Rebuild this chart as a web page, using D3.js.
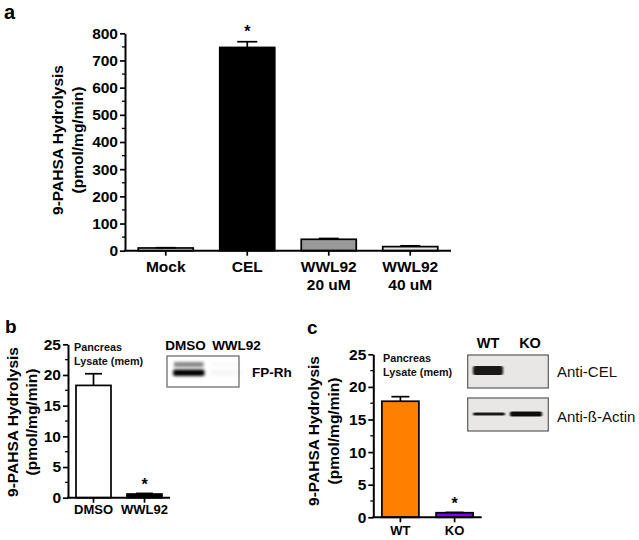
<!DOCTYPE html>
<html>
<head>
<meta charset="utf-8">
<script src="https://cdn.jsdelivr.net/npm/d3@7"></script>
<style>
  html, body { margin: 0; padding: 0; background: #fff; }
  svg { display: block; font-family: "Liberation Sans", Arial, sans-serif; }
</style>
</head>
<body>
<svg id="chart" width="639" height="540"></svg>
<script>
// ---------------- DATA ----------------
const aCategories = ["Mock", "CEL", "WWL92 20 uM", "WWL92 40 uM"];
const aLabels = [["Mock"], ["CEL"], ["WWL92", "20 uM"], ["WWL92", "40 uM"]];
const aValues = [10, 748, 42, 15];
const aErrors = [1, 21, 3, 3];
const aTicks = [0, 100, 200, 300, 400, 500, 600, 700, 800];
const aColors = ["#e6e6e6", "#000000", "#999999", "#e6e6e6"];
const aStars = [false, true, false, false];

const bCategories = ["DMSO", "WWL92"];
const bValues = [18.3, 0.6];
const bErrors = [1.9, 0.1];
const bTicks = [0, 5, 10, 15, 20, 25];
const bColors = ["#ffffff", "#000000"];
const bStars = [false, true];

const cCategories = ["WT", "KO"];
const cValues = [17.8, 0.7];
const cErrors = [0.7, 0.05];
const cTicks = [0, 5, 10, 15, 20, 25];
const cColors = ["#ff8000", "#8000ff"];
const cStars = [false, true];

const yTitle = ["9-PAHSA Hydrolysis", "(pmol/mg/min)"];
const insetText = ["Pancreas", "Lysate (mem)"];

// Blots
const bBlotLanes = ["DMSO", "WWL92"];
const bBlotUpper = [0.55, 0.02];
const bBlotLower = [1.0, 0.03];
const bBlotLabel = "FP-Rh";

const cBlotLanes = ["WT", "KO"];
const cBlotCEL = [0.95, 0.0];
const cBlotActin = [0.95, 1.0];
const cBlotLabels = ["Anti-CEL", "Anti-ß-Actin"];

// ---------------- DRAW ----------------
const svg = d3.select("#chart");
const defs = svg.append("defs");
defs.append("filter").attr("id", "blur").attr("x", "-30%").attr("y", "-150%").attr("width", "160%").attr("height", "400%")
  .append("feGaussianBlur").attr("stdDeviation", "1.8 1.4");
defs.append("filter").attr("id", "blur2").attr("x", "-30%").attr("y", "-150%").attr("width", "160%").attr("height", "400%")
  .append("feGaussianBlur").attr("stdDeviation", "1.0 0.7");

function barPanel(o) {
  const g = svg.append("g");
  const y = d3.scaleLinear().domain([0, o.max]).range([o.y0, o.y1]);
  const x = d3.scaleBand().domain(o.cats).range([o.x0, o.x1])
    .paddingInner(o.pad).paddingOuter(o.pad / 2);

  g.selectAll("rect.bar").data(o.cats).join("rect")
    .attr("x", d => x(d))
    .attr("width", x.bandwidth())
    .attr("y", (d, i) => y(o.values[i]))
    .attr("height", (d, i) => y(0) - y(o.values[i]))
    .attr("fill", (d, i) => o.colors[i])
    .attr("stroke", "#000").attr("stroke-width", 1.7);

  o.cats.forEach((d, i) => {
    const cx = x(d) + x.bandwidth() / 2;
    const top = y(o.values[i] + o.errors[i]);
    g.append("line").attr("x1", cx).attr("x2", cx)
      .attr("y1", y(o.values[i])).attr("y2", top)
      .attr("stroke", "#000").attr("stroke-width", 1.7);
    g.append("line").attr("x1", cx - o.cap / 2).attr("x2", cx + o.cap / 2)
      .attr("y1", top).attr("y2", top)
      .attr("stroke", "#000").attr("stroke-width", 1.7);
    if (o.stars[i]) {
      g.append("text").attr("x", cx).attr("y", top - o.starGap)
        .attr("text-anchor", "middle").attr("font-weight", "bold")
        .attr("font-size", 16).text("*");
    }
  });

  const step = o.ticks[1] - o.ticks[0];
  const minor = o.ticks.slice(0, -1).map(t => t + step / 2);
  g.selectAll("line.minor").data(minor).join("line")
    .attr("x1", o.x0 - 3).attr("x2", o.x0)
    .attr("y1", d => y(d)).attr("y2", d => y(d))
    .attr("stroke", "#000").attr("stroke-width", 1.3);

  const ya = g.append("g").attr("transform", `translate(${o.x0},0)`)
    .call(d3.axisLeft(y).tickValues(o.ticks).tickSize(5).tickSizeOuter(0).tickPadding(2));
  ya.select(".domain").attr("stroke", "#000").attr("stroke-width", 2);
  ya.selectAll(".tick line").attr("stroke", "#000").attr("stroke-width", 1.7);
  ya.selectAll(".tick text").attr("font-size", o.tickFont).attr("font-weight", "bold")
    .attr("fill", "#000").attr("font-family", "Liberation Sans, Arial, sans-serif");

  g.append("line").attr("x1", o.x0 - 1).attr("x2", o.x1)
    .attr("y1", y(0)).attr("y2", y(0))
    .attr("stroke", "#000").attr("stroke-width", 2);
  g.selectAll("line.xt").data(o.cats).join("line")
    .attr("x1", d => x(d) + x.bandwidth() / 2).attr("x2", d => x(d) + x.bandwidth() / 2)
    .attr("y1", y(0)).attr("y2", y(0) + 5)
    .attr("stroke", "#000").attr("stroke-width", 1.7);
  o.cats.forEach((d, i) => {
    const t = g.append("text").attr("x", x(d) + x.bandwidth() / 2)
      .attr("y", o.labelY).attr("text-anchor", "middle")
      .attr("font-weight", "bold").attr("font-size", o.labelFont);
    o.labels[i].forEach((s, j) => {
      t.append("tspan").attr("x", x(d) + x.bandwidth() / 2)
        .attr("dy", j === 0 ? 0 : o.labelLH).text(s);
    });
  });

  yTitle.forEach((s, j) => {
    g.append("text")
      .attr("transform", `translate(${o.titleX[j]},${o.titleY}) rotate(-90)`)
      .attr("text-anchor", "middle").attr("dominant-baseline", "central")
      .attr("font-weight", "bold").attr("font-size", o.titleFont).text(s);
  });

  g.append("text").attr("x", o.letter[1]).attr("y", o.letter[2])
    .attr("font-weight", "bold").attr("font-size", o.letter[3]).text(o.letter[0]);

  if (o.inset) {
    insetText.forEach((s, j) => {
      g.append("text").attr("x", o.inset[0]).attr("y", o.inset[1] + j * 13.5)
        .attr("font-weight", "bold").attr("font-size", 10.8).attr("fill", "#111").text(s);
    });
  }
}

barPanel({
  cats: aCategories, labels: aLabels, values: aValues, errors: aErrors, colors: aColors,
  stars: aStars, ticks: aTicks, max: 800,
  x0: 125, x1: 451, y0: 250.7, y1: 33.3, pad: 0.325, cap: 20, starGap: 5,
  tickFont: 15.5, labelFont: 15.5, labelY: 272, labelLH: 18,
  titleX: [57, 77], titleY: 140, titleFont: 15.5,
  letter: ["a", 4, 19, 20]
});

barPanel({
  cats: bCategories, labels: bCategories.map(d => [d]), values: bValues, errors: bErrors, colors: bColors,
  stars: bStars, ticks: bTicks, max: 25,
  x0: 68, x1: 170, y0: 497.7, y1: 344.3, pad: 0.314, cap: 17, starGap: 3,
  tickFont: 15.5, labelFont: 13, labelY: 514, labelLH: 16,
  titleX: [12, 31], titleY: 422, titleFont: 15.5,
  letter: ["b", 5, 333, 19],
  inset: [74, 351]
});

barPanel({
  cats: cCategories, labels: cCategories.map(d => [d]), values: cValues, errors: cErrors, colors: cColors,
  stars: cStars, ticks: cTicks, max: 25,
  x0: 373.3, x1: 481.7, y0: 517.3, y1: 354.3, pad: 0.317, cap: 18, starGap: 3,
  tickFont: 15.5, labelFont: 13, labelY: 535, labelLH: 16,
  titleX: [313, 333], titleY: 431, titleFont: 15.5,
  letter: ["c", 307, 334, 19],
  inset: [383, 362]
});

// ---------------- BLOT b ----------------
(function () {
  const g = svg.append("g");
  const lab = d3.scaleBand().domain(bBlotLanes).range([160, 262]);
  const lane = d3.scaleBand().domain(bBlotLanes).range([170, 243]).paddingInner(0.05);
  g.append("rect").attr("x", 167).attr("y", 356).attr("width", 72).attr("height", 31)
    .attr("fill", "#ffffff").attr("stroke", "#6e6e6e").attr("stroke-width", 1.3);
  bBlotLanes.forEach((d, i) => {
    g.append("text").attr("x", lab(d) + lab.bandwidth() / 2).attr("y", 350)
      .attr("text-anchor", "middle").attr("font-weight", "bold").attr("font-size", 13.5).text(d);
  });
  g.selectAll("rect.up").data(bBlotLanes).join("rect")
    .attr("x", d => lane(d) + 4).attr("width", lane.bandwidth() - 6)
    .attr("y", 362).attr("height", 5)
    .attr("fill", "#222").attr("opacity", (d, i) => bBlotUpper[i]).attr("filter", "url(#blur)");
  g.selectAll("rect.lo").data(bBlotLanes).join("rect")
    .attr("x", d => lane(d) + 3).attr("width", lane.bandwidth() - 4)
    .attr("y", 369.5).attr("height", 6.5).attr("rx", 2)
    .attr("fill", "#000").attr("opacity", (d, i) => bBlotLower[i]).attr("filter", "url(#blur)");
  g.append("text").attr("x", 252).attr("y", 377).attr("font-weight", "bold")
    .attr("font-size", 13.5).text(bBlotLabel);
})();

// ---------------- BLOT c ----------------
(function () {
  const g = svg.append("g");
  const lane = d3.scaleBand().domain(cBlotLanes).range([467, 551]);
  cBlotLanes.forEach(d => {
    g.append("text").attr("x", lane(d) + lane.bandwidth() / 2).attr("y", 348)
      .attr("text-anchor", "middle").attr("font-weight", "bold").attr("font-size", 14.5).text(d);
  });
  const boxes = [355, 398];
  boxes.forEach((by, k) => {
    g.append("rect").attr("x", 467.7).attr("y", by).attr("width", 80.6).attr("height", 33)
      .attr("fill", "#e9e7e5").attr("stroke", "#5a5a5a").attr("stroke-width", 1.2);
    g.append("text").attr("x", 557).attr("y", by + (k === 0 ? 22 : 24))
      .attr("font-size", 15).attr("fill", "#111").text(cBlotLabels[k]);
  });
  g.selectAll("rect.cel").data(cBlotLanes).join("rect")
    .attr("x", d => lane(d) + 6).attr("width", lane.bandwidth() - 12)
    .attr("y", 366).attr("height", 9).attr("rx", 2)
    .attr("fill", "#111").attr("opacity", (d, i) => cBlotCEL[i]).attr("filter", "url(#blur2)");
  g.selectAll("rect.act").data(cBlotLanes).join("rect")
    .attr("x", (d, i) => lane(d) + (i === 0 ? 6 : 1)).attr("width", lane.bandwidth() - 10)
    .attr("y", (d, i) => 414 - (i === 0 ? 1.5 : 2.5))
    .attr("height", (d, i) => i === 0 ? 3 : 5).attr("rx", 1.5)
    .attr("fill", "#111").attr("opacity", (d, i) => cBlotActin[i]).attr("filter", "url(#blur2)");
})();
</script>
</body>
</html>
